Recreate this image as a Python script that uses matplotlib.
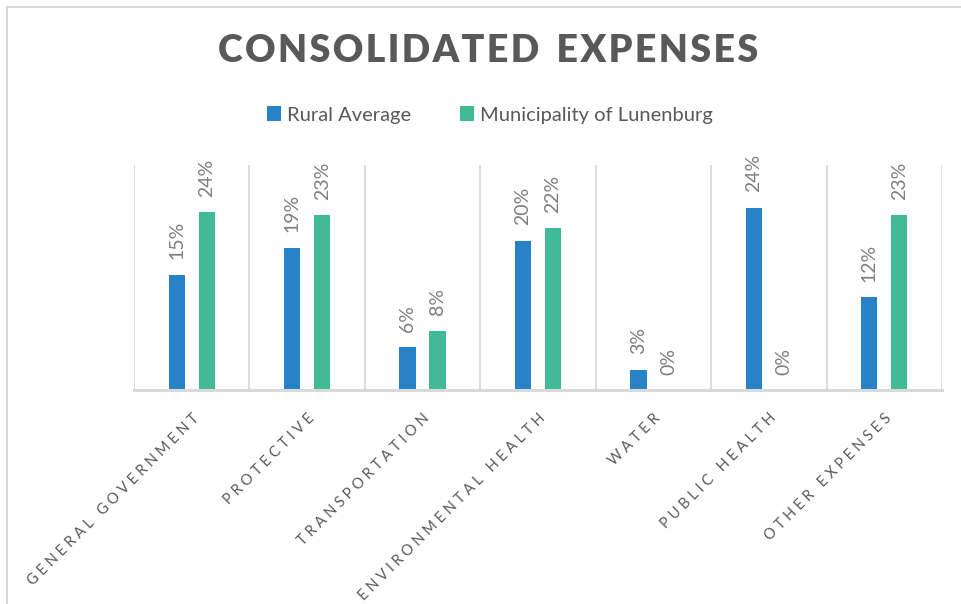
import numpy as np
import matplotlib
matplotlib.use('Agg')
import matplotlib.pyplot as plt
from matplotlib.patches import Rectangle

categories = ['GENERAL GOVERNMENT', 'PROTECTIVE', 'TRANSPORTATION',
              'ENVIRONMENTAL HEALTH', 'WATER', 'PUBLIC HEALTH', 'OTHER EXPENSES']
rural      = [15.4, 19.0, 5.7, 19.9, 2.7, 24.3, 12.4]
lunenburg  = [23.7, 23.3, 7.9, 21.6, 0.0, 0.0, 23.3]
series     = ['Rural Average', 'Municipality of Lunenburg']
colors     = ['#2882C8', '#43BA96']

FONT = ['Lato', 'DejaVu Sans']


def spaced(s, sep, wordsep):
    return wordsep.join(sep.join(w) for w in s.split(' '))


fig = plt.figure(figsize=(9.61, 6.04), dpi=100)
ax  = fig.add_axes([134 / 961, 1 - 390 / 604, (942 - 134) / 961, 225 / 604])

# outer chart frame (only top and left visible)
fig.patches.append(Rectangle((7 / 961, -0.1), 1.2, 1 - 7 / 604 + 0.1,
                             transform=fig.transFigure, fill=False,
                             edgecolor='#D9D9D9', linewidth=1.5))

x = np.arange(len(categories))
w = 0.14
off = 0.13
for i, (vals, name) in enumerate(zip([rural, lunenburg], series)):
    pos = x + (-off if i == 0 else off)
    ax.bar(pos, vals, width=w, color=colors[i], label=name, zorder=3)
    for p, v in zip(pos, vals):
        ax.annotate('%d%%' % round(v), (p, v), xytext=(0, 11),
                    textcoords='offset points', rotation=90,
                    ha='center', va='bottom', fontsize=14,
                    color='#7F7F7F', family=FONT)

ax.set_xlim(-0.5, len(categories) - 0.5)
ax.set_ylim(0, 30)
ax.set_yticks([])
for b in np.arange(-0.5, len(categories), 1.0):
    ax.axvline(b, color='#D9D9D9', linewidth=1.3, zorder=1)
for s in ['top', 'right', 'left']:
    ax.spines[s].set_visible(False)
ax.spines['bottom'].set_color('#D9D9D9')
ax.spines['bottom'].set_linewidth(2.2)
ax.spines['bottom'].set_zorder(4)

ax.set_xticks(x)
ax.set_xticklabels([spaced(c, ' ', '   ') for c in categories], rotation=45,
                   ha='right', rotation_mode='anchor', fontsize=10.5,
                   color='#595959', family=FONT)
ax.tick_params(axis='x', length=0, pad=15)

fig.text(0.508, 1 - 51 / 604, spaced('CONSOLIDATED EXPENSES', '\u200a', '  '),
         ha='center', va='center', fontsize=27, fontweight='heavy',
         color='#595959', family=FONT)

leg = fig.legend(loc='center', bbox_to_anchor=(0.51, 1 - 115 / 604), ncol=2,
                 frameon=False, handlelength=0.7, handleheight=0.7,
                 handletextpad=0.3, columnspacing=2.4,
                 prop={'family': FONT, 'size': 14.5})
for t in leg.get_texts():
    t.set_color('#595959')

fig.savefig('out.png', dpi=100)
